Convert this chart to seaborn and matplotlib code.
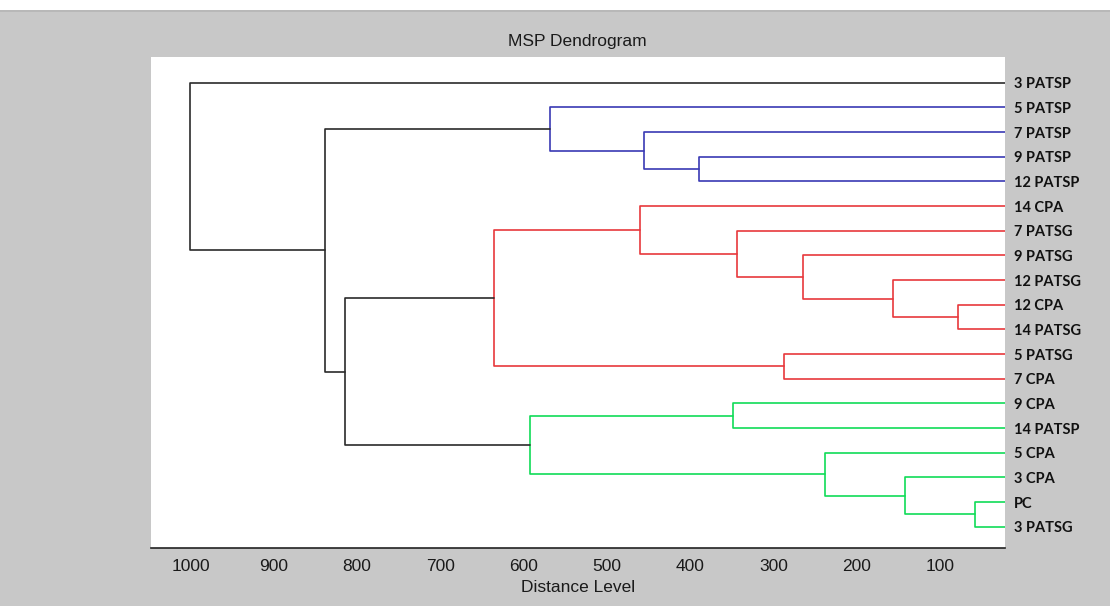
import numpy as np
import pandas as pd
import matplotlib
matplotlib.use('Agg')
import matplotlib.pyplot as plt
import seaborn as sns

# ── data: leaf order (top to bottom) and merge table ─────────
leaves = ["3 PATSP", "5 PATSP", "7 PATSP", "9 PATSP", "12 PATSP",
          "14 CPA", "7 PATSG", "9 PATSG", "12 PATSG", "12 CPA",
          "14 PATSG", "5 PATSG", "7 CPA", "9 CPA", "14 PATSP",
          "5 CPA", "3 CPA", "PC", "3 PATSG"]

# each merge: (left node, right node, distance level, branch group)
merge_left = ["9 PATSP", "7 PATSP", "5 PATSP",
              "12 CPA", "12 PATSG", "9 PATSG", "7 PATSG", "14 CPA", "5 PATSG", "R5",
              "PC", "3 CPA", "5 CPA", "9 CPA", "G4",
              "R7", "B3", "3 PATSP"]
merge_right = ["12 PATSP", "B1", "B2",
               "14 PATSG", "R1", "R2", "R3", "R4", "7 CPA", "R6",
               "3 PATSG", "G1", "G2", "14 PATSP", "G3",
               "G5", "K1", "K2"]
merge_name = ["B1", "B2", "B3",
              "R1", "R2", "R3", "R4", "R5", "R6", "R7",
              "G1", "G2", "G3", "G4", "G5",
              "K1", "K2", "K3"]
merge_height = [389, 455, 568,
                78, 157, 264, 344, 460, 287.5, 635.5,
                58, 142, 238, 349, 592,
                814, 838, 1000]
merge_group = ["blue"] * 3 + ["red"] * 7 + ["green"] * 5 + ["black"] * 3

xticks = [1000, 900, 800, 700, 600, 500, 400, 300, 200, 100]

# ── build the link segments (scipy-like U shapes) ────────────
pos = {name: float(i) for i, name in enumerate(leaves)}
hgt = {name: 0.0 for name in leaves}
rows = []
for k, (a, b, h, g) in enumerate(zip(merge_left, merge_right, merge_height, merge_group)):
    ya, yb = pos[a], pos[b]
    for x, y in [(hgt[a], ya), (h, ya), (h, yb), (hgt[b], yb)]:
        rows.append({"x": x, "y": y, "link": k, "group": g})
    pos[merge_name[k]] = (ya + yb) / 2
    hgt[merge_name[k]] = h
links = pd.DataFrame(rows)

palette = {"blue": "#3a3ab4", "red": "#e8383c", "green": "#10dc58", "black": "#2b2b2b"}

# ── plot ─────────────────────────────────────────────────────
sns.set_style("white")
plt.rcParams['font.family'] = ['Liberation Sans', 'DejaVu Sans']

fig = plt.figure(figsize=(11.1, 6.06), dpi=100, facecolor="#c8c8c8")
fig.patches.append(plt.Rectangle((0, 1 - 10 / 606), 1, 10 / 606, transform=fig.transFigure,
                                 facecolor="white", edgecolor="none", zorder=0))
fig.patches.append(plt.Rectangle((0, 1 - 12 / 606), 1, 2 / 606, transform=fig.transFigure,
                                 facecolor="#b8b8b8", edgecolor="none", zorder=0))
ax = fig.add_axes([0.1356, 0.0957, 0.7698, 0.8102])
ax.set_facecolor("white")

sns.lineplot(data=links, x="x", y="y", units="link", estimator=None, sort=False,
             hue="group", palette=palette, legend=False, linewidth=1.2, ax=ax)

ax.set_xlim(1048, 22)
ax.set_ylim(18.86, -1.04)
ax.set_xticks(xticks)
ax.set_xticklabels([str(t) for t in xticks], fontsize=12.5, color="#1a1a1a")
ax.tick_params(axis="x", direction="in", length=6.5, width=1.1, color="#222222", pad=8)

ax.yaxis.tick_right()
ax.set_yticks(range(len(leaves)))
ax.set_yticklabels(leaves, fontsize=10.5, fontweight="bold", color="#111111",
                   family=["Lato", "DejaVu Sans"])
ax.tick_params(axis="y", length=0, pad=6.5)

for side in ["left", "top", "right"]:
    ax.spines[side].set_visible(False)
ax.spines["bottom"].set_color("#222222")
ax.spines["bottom"].set_linewidth(1.2)

ax.set_xlabel("Distance Level", fontsize=12.5, color="#1a1a1a", labelpad=4)
ax.set_ylabel("")
ax.set_title("MSP Dendrogram", fontsize=12.5, color="#1a1a1a", pad=8)

fig.savefig("out.png", dpi=100, facecolor=fig.get_facecolor())
